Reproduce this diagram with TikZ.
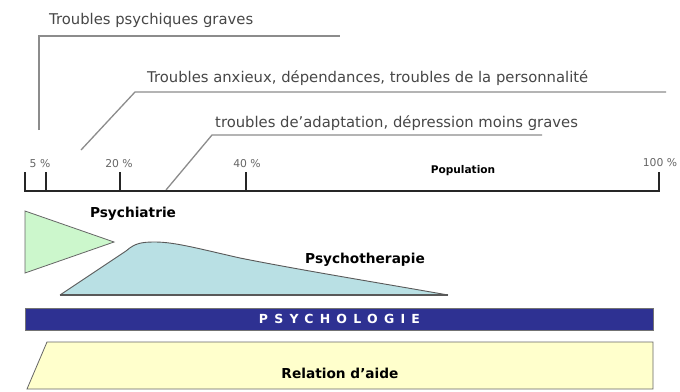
\documentclass[tikz,border=0pt]{standalone}
\usepackage{fontspec}
\setmainfont{DejaVu Sans}
\usetikzlibrary{calc}
\begin{document}
\begin{tikzpicture}[x=1pt,y=-1pt,
  lbl/.style={anchor=west,inner sep=0pt,text=black!72,font=\fontsize{14.8}{16}\selectfont},
  lead/.style={draw=black!45,line width=1.3pt},
  pct/.style={inner sep=0pt,text=black!60,font=\fontsize{10.8}{12}\selectfont},
  axisline/.style={draw=black!85,line width=2pt},
  boldlbl/.style={inner sep=0pt,font=\bfseries\fontsize{13.7}{15}\selectfont},
  zone/.style={draw=black!60,line width=0.8pt}]
\definecolor{psyGreen}{HTML}{CCF7CC}
\definecolor{psyCyan}{HTML}{B9E0E4}
\definecolor{psyBlue}{HTML}{2E3192}
\definecolor{psyYellow}{HTML}{FFFFCC}
\useasboundingbox[fill=white] (0,0) rectangle (680,391);

% axis points
\coordinate (a0) at (25,191);
\coordinate (a100) at (659,191);
\coordinate (t5) at (46,191);
\coordinate (t20) at (120,191);
\coordinate (t40) at (246,191);

% category labels with their leader lines
\node[lbl] (grave) at (49,20) {Troubles psychiques graves};
\node[lbl] (anx) at (147,78) {Troubles anxieux, dépendances, troubles de la personnalité};
\node[lbl] (adapt) at (215,123) {troubles de'adaptation, dépression moins graves};
\coordinate (g1) at (39,130);
\coordinate (g2) at (39,36);
\coordinate (g3) at (340,36);
\coordinate (x1) at (81,150);
\coordinate (x2) at (135,92);
\coordinate (x3) at (666,92);
\coordinate (d1) at (166,190);
\coordinate (d2) at (212,135);
\coordinate (d3) at (542,135);
\draw[lead] (g1) -- (g2) -- (g3);
\draw[lead] (x1) -- (x2) -- (x3);
\draw[lead] (d1) -- (d2) -- (d3);

% population axis
\draw[axisline] ($(a0)+(0,-19)$) -- (a0) -- (a100) -- ($(a100)+(0,-19)$);
\foreach \t in {t5,t20,t40}
  \draw[axisline] (\t) -- ++(0,-19);
\node[pct] (l5) at (40,164) {5 \%};
\node[pct] (l20) at (119,164) {20 \%};
\node[pct] (l40) at (247,164) {40 \%};
\node[pct] (l100) at (660,163) {100 \%};
\node[inner sep=0pt,font=\bfseries\fontsize{10.6}{12}\selectfont] (pop) at (463,171) {Population};

% Psychiatrie
\path[zone,fill=psyGreen] (25,211) -- (114,242) -- (25,273) -- cycle;
\node[boldlbl] (psychiatrie) at (133,214) {Psychiatrie};

% Psychotherapie
\path[fill=psyCyan] (60,295) -- (126,251) .. controls (135,243) and (142,242) .. (155,242)
  .. controls (175,242) and (200,249) .. (240,258)
  .. controls (300,270) and (380,283) .. (448,295) -- cycle;
\draw[draw=black!65,line width=0.9pt] (60,295) -- (126,251) .. controls (135,243) and (142,242) .. (155,242)
  .. controls (175,242) and (200,249) .. (240,258)
  .. controls (300,270) and (380,283) .. (448,295);
\draw[draw=black!65,line width=1.6pt] (60,295) -- (448,295);
\node[boldlbl] (psychoth) at (365,260) {Psychotherapie};

% Psychologie band
\node[draw=black!55,line width=0.8pt,fill=psyBlue,minimum width=628pt,minimum height=22pt,inner sep=0pt,anchor=north west,
  text=white,font=\bfseries\fontsize{12.5}{13}\selectfont\addfontfeature{LetterSpace=50}] (psychologie) at (25,308) {PSYCHOLOGIE};

% Relation d'aide
\path[zone,fill=psyYellow] (47,342) -- (653,342) -- (653,389) -- (27,389) -- cycle;
\node[boldlbl] (aide) at (340,373) {Relation d'aide};
\end{tikzpicture}
\end{document}
